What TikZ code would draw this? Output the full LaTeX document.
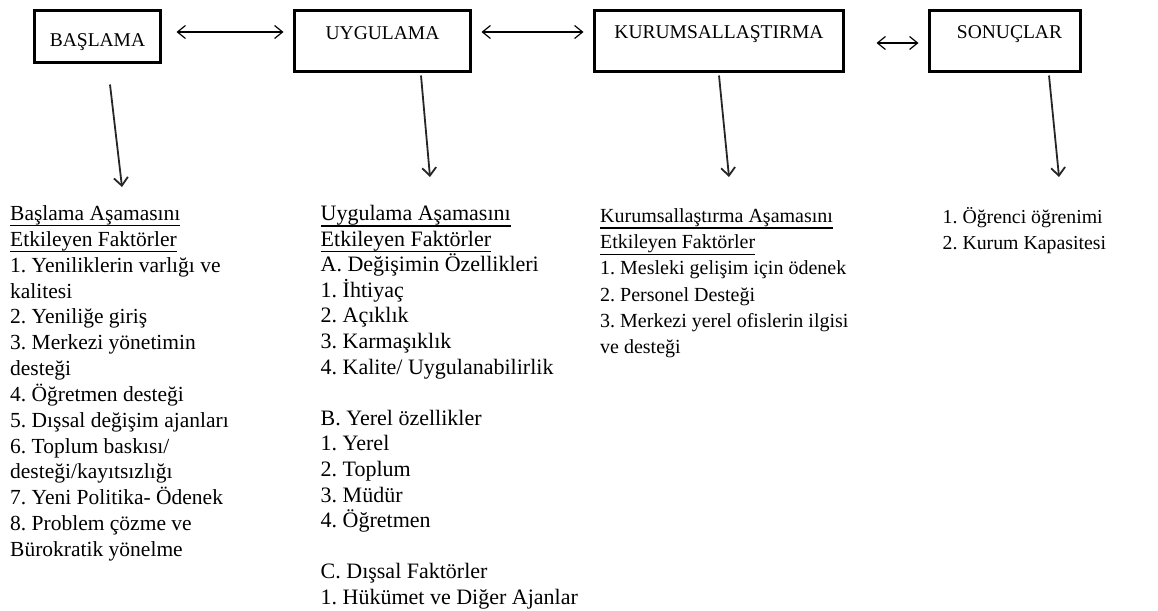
\documentclass[tikz,border=0pt]{standalone}
\usepackage{fontspec}
\setmainfont{Liberation Serif}
\usetikzlibrary{arrows.meta}
\newcommand\ulx[1]{\setbox0\hbox{#1}\rlap{\smash{\rule[-6pt]{\wd0}{1.1pt}}}\box0}
\begin{document}
\begin{tikzpicture}[x=1pt,y=-1pt,
  stagebox/.style={draw, line width=3pt, inner xsep=0pt, inner ysep=0pt, anchor=base,
    font=\fontsize{19.5}{23}\selectfont},
  listtext/.style={align=left, inner sep=0pt, anchor=base west},
  harr/.style={{Straight Barb[length=8pt,width=13pt]}-{Straight Barb[length=8pt,width=13pt]}, line width=1.2pt},
  darr/.style={-{Straight Barb[length=8pt,width=14pt]}, line width=1.8pt, draw=black!85},
]
\useasboundingbox (0,0) rectangle (1158,610);

% stage boxes
\node[stagebox, minimum width=126pt, text height=36.5pt, text depth=15.5pt] (b1) at (97.5,47) {BAŞLAMA};
\node[stagebox, minimum width=176pt, text height=29.5pt, text depth=31.5pt] (b2) at (382.5,40) {UYGULAMA};
\node[stagebox, minimum width=249pt, text height=28.5pt, text depth=32.5pt] (b3) at (719,39) {KURUMSALLAŞTIRMA};
\node[stagebox, minimum width=151pt, text height=28.5pt, text depth=32.5pt] (b4) at (1005,39) {\hspace*{9pt}SONUÇLAR};

% horizontal double arrows
\draw[harr] ([shift={(14.5,-4.5)}]b1.east) -- ([shift={(-9.5,-9)}]b2.west);
\draw[harr] ([shift={(9.5,-9)}]b2.east) -- ([shift={(-9.5,-9)}]b3.west);
\draw[harr] ([shift={(31.5,2)}]b3.east) -- ([shift={(-9.5,2)}]b4.west);

% lists (anchored at the baseline of their last line)
\node[listtext, font=\fontsize{21.5}{25.85}\selectfont\frenchspacing] (l1) at (10,556.5) {%
\ulx{Başlama Aşamasını}\\
\ulx{Etkileyen Faktörler}\\
1. Yeniliklerin varlığı ve\\
kalitesi\\
2. Yeniliğe giriş\\
3. Merkezi yönetimin\\
desteği\\
4. Öğretmen desteği\\
5. Dışsal değişim ajanları\\
6. Toplum baskısı/\\
desteği/kayıtsızlığı\\
7. Yeni Politika- Ödenek\\
8. Problem çözme ve\\
Bürokratik yönelme};

\node[listtext, font=\fontsize{22}{25.6}\selectfont\frenchspacing] (l2) at (320.5,604.5) {%
\ulx{Uygulama Aşamasını}\\
\ulx{Etkileyen Faktörler}\\
A. Değişimin Özellikleri\\
1. İhtiyaç\\
2. Açıklık\\
3. Karmaşıklık\\
4. Kalite/ Uygulanabilirlik\\[25.6pt]
B. Yerel özellikler\\
1. Yerel\\
2. Toplum\\
3. Müdür\\
4. Öğretmen\\[25.6pt]
C. Dışsal Faktörler\\
1. Hükümet ve Diğer Ajanlar};

\node[listtext, font=\fontsize{20}{26.2}\selectfont\frenchspacing] (l3) at (600,353.5) {%
\ulx{Kurumsallaştırma Aşamasını}\\
\ulx{Etkileyen Faktörler}\\
1. Mesleki gelişim için ödenek\\
2. Personel Desteği\\
3. Merkezi yerel ofislerin ilgisi\\
ve desteği};

\node[listtext, font=\fontsize{19.8}{26}\selectfont\frenchspacing] (l4) at (942.5,249.5) {%
1. Öğrenci öğrenimi\\
2. Kurum Kapasitesi};

% down arrows
\coordinate (e1) at (122,187);
\coordinate (e2) at (430,177);
\coordinate (e3) at (729,177);
\coordinate (e4) at (1059,177);
\draw[darr] ([shift={(12.5,20.5)}]b1.south) -- (e1);
\draw[darr] ([shift={(38.5,2.5)}]b2.south) -- (e2);
\draw[darr] ([shift={(0,2.5)}]b3.south) -- (e3);
\draw[darr] ([shift={(44,2.5)}]b4.south) -- (e4);
\end{tikzpicture}
\end{document}
